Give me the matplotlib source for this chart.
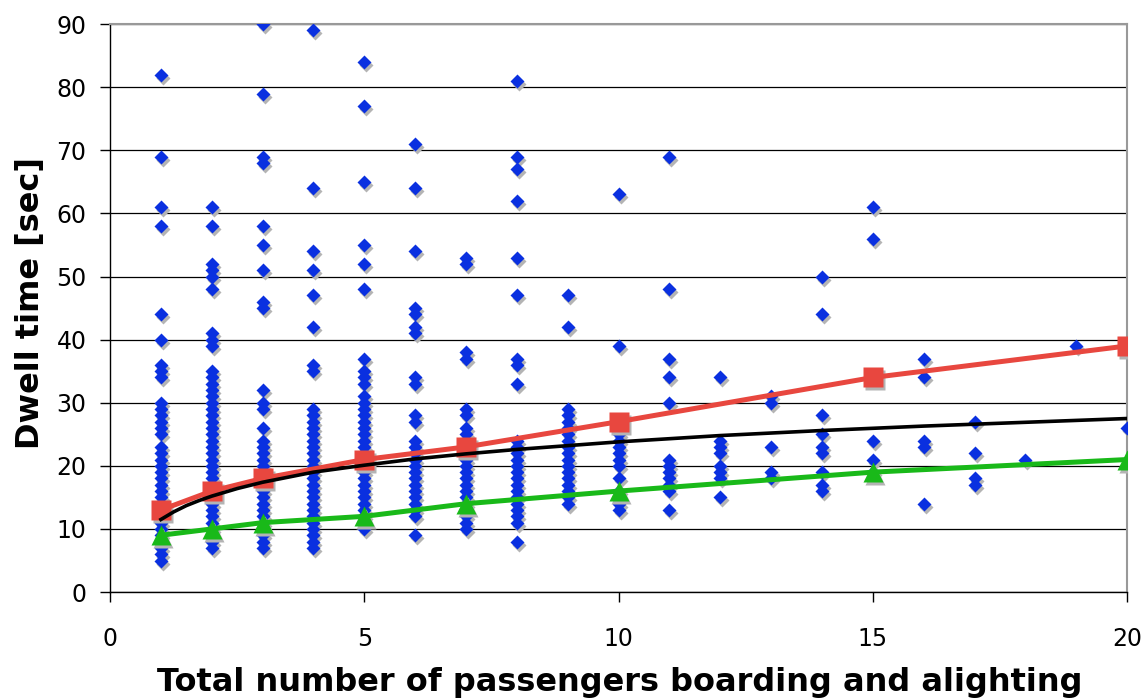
import matplotlib.pyplot as plt
import matplotlib.transforms as mtransforms
from matplotlib import rc

rc('font', family='DejaVu Sans')

# observed dwell times per passenger count
obs = {
    1: [82, 69, 61, 58, 44, 40, 36, 35, 34, 30, 29, 28, 27, 26, 25, 23,
        22, 21, 20, 19, 18, 17, 16, 15, 14, 13, 12, 11, 10, 9, 8, 7, 6, 5],
    2: [61, 58, 52, 51, 50, 48, 41, 40, 39, 35, 34, 33, 32, 31, 30, 29, 28,
        27, 26, 25, 24, 23, 22, 21, 20, 19, 18, 17, 16, 15, 14, 13, 12, 11,
        10, 9, 8, 7],
    3: [90, 79, 69, 68, 58, 55, 51, 46, 45, 32, 30, 29, 26, 24, 23, 22, 21,
        20, 19, 18, 17, 16, 15, 14, 13, 12, 11, 10, 9, 8, 7],
    4: [89, 64, 54, 51, 47, 42, 36, 35, 29, 28, 27, 26, 25, 24, 23, 22, 21,
        20, 19, 18, 17, 16, 15, 14, 13, 12, 11, 10, 9, 8, 7],
    5: [84, 77, 65, 55, 52, 48, 37, 35, 34, 33, 31, 30, 29, 28, 27, 26, 25,
        24, 23, 22, 21, 20, 19, 18, 17, 16, 15, 14, 13, 12, 11, 10],
    6: [71, 64, 54, 45, 44, 42, 41, 34, 33, 28, 27, 24, 23, 22, 21, 20, 19,
        18, 17, 16, 15, 14, 13, 12, 9],
    7: [53, 52, 38, 37, 29, 28, 26, 25, 24, 23, 22, 21, 20, 19, 18, 17, 16,
        15, 14, 13, 12, 11, 10],
    8: [81, 69, 67, 62, 53, 47, 37, 36, 33, 24, 23, 22, 21, 20, 19, 18, 17,
        16, 15, 14, 13, 12, 11, 8],
    9: [47, 42, 29, 28, 27, 26, 25, 24, 23, 22, 21, 20, 19, 18, 17, 16, 15, 14],
    10: [63, 39, 25, 24, 23, 22, 21, 20, 18, 16, 15, 14, 13],
    11: [69, 48, 37, 34, 30, 21, 20, 19, 18, 17, 16, 13],
    12: [34, 24, 23, 22, 20, 19, 18, 15],
    13: [31, 30, 23, 19, 18],
    14: [50, 44, 28, 25, 23, 22, 19, 17, 16],
    15: [61, 56, 24, 21, 19],
    16: [37, 34, 24, 23, 14],
    17: [27, 22, 18, 17],
    18: [21],
    19: [39],
    20: [26],
}

# model curves
model_x = [1, 2, 3, 5, 7, 10, 15, 20]
upper_y = [13, 16, 18, 21, 23, 27, 34, 39]
lower_y = [9, 10, 11, 12, 14, 16, 19, 21]

# fitted trend
trend_x = [1, 1.25, 1.5, 1.75, 2, 2.5, 3, 4, 5, 6, 7, 8, 10, 12, 14, 16, 18, 20]
trend_y = [11.5, 12.7, 13.7, 14.5, 15.2, 16.4, 17.4, 19.0, 20.1, 21.1, 21.9,
           22.6, 23.8, 24.8, 25.6, 26.3, 26.9, 27.5]

px, py = [], []
for n, vals in obs.items():
    px += [n] * len(vals)
    py += vals

fig = plt.figure(figsize=(11.44, 6.99), dpi=100)
ax = fig.add_axes([0.0962, 0.153, 0.889, 0.8125])

shadow = mtransforms.offset_copy(ax.transData, fig=fig, x=2, y=-3, units='dots')

ax.plot(px, py, 'D', ms=7, color='#b4b4b4', mec='none', transform=shadow, zorder=2)
ax.plot(px, py, 'D', ms=7, color='#0a30e0', mec='none', zorder=3)

ax.plot(model_x, upper_y, 's', ms=15, color='#b4b4b4', mec='none', transform=shadow, zorder=4)
ax.plot(model_x, upper_y, '-', lw=3.6, color='#e8473f', zorder=5)
ax.plot(model_x, upper_y, 's', ms=15, color='#e8473f', mec='none', zorder=5)

ax.plot(trend_x, trend_y, '-', lw=2.6, color='black', zorder=6)

ax.plot(model_x, lower_y, '^', ms=15, color='#b4b4b4', mec='none', transform=shadow, zorder=7)
ax.plot(model_x, lower_y, '-', lw=3.6, color='#19b919', zorder=8)
ax.plot(model_x, lower_y, '^', ms=15, color='#19b919', mec='none', zorder=8)

ax.set_xlim(0, 20)
ax.set_ylim(0, 90)
ax.set_xticks(range(0, 21, 5))
ax.set_yticks(range(0, 91, 10))
ax.yaxis.grid(True, color='black', lw=0.9)
ax.set_axisbelow(True)

ax.spines['top'].set_color('#999999')
ax.spines['right'].set_color('#999999')
ax.spines['top'].set_linewidth(1.5)
ax.spines['right'].set_linewidth(1.5)
ax.spines['left'].set_linewidth(1.0)
ax.spines['bottom'].set_linewidth(1.0)

ax.tick_params(axis='y', length=7, width=1, pad=10, labelsize=17)
ax.tick_params(axis='x', length=7, width=1, pad=18, labelsize=17)

ax.set_xlabel('Total number of passengers boarding and alighting',
              fontsize=23, fontweight='bold', va='center')
ax.set_ylabel('Dwell time [sec]', fontsize=23, fontweight='bold', va='center')
ax.xaxis.set_label_coords(0.501, -0.160)
ax.yaxis.set_label_coords(-0.0787, 0.509)

fig.savefig('out.png', dpi=100)
